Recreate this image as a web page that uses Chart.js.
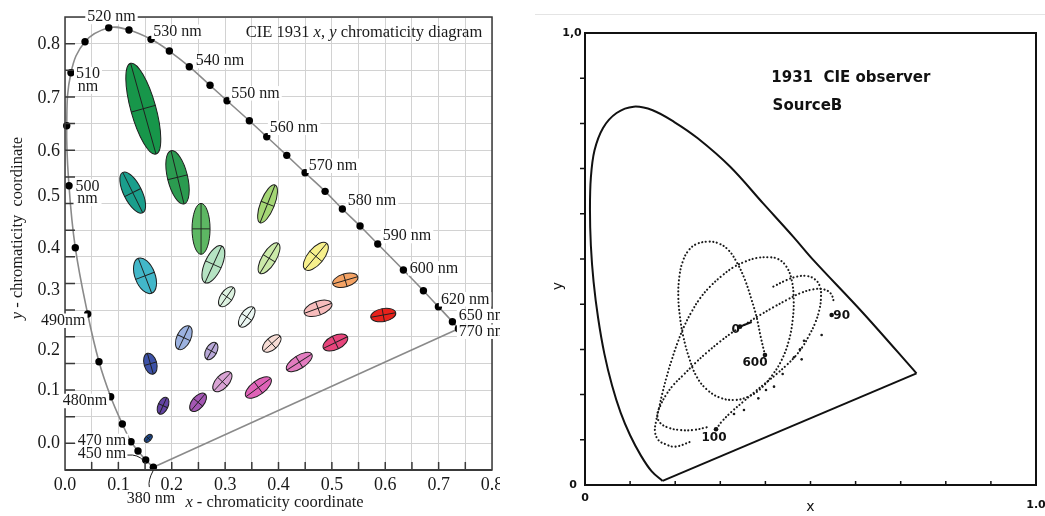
<!DOCTYPE html>
<html>
<head>
<meta charset="utf-8">
<script src="https://cdn.jsdelivr.net/npm/chart.js@4.4.0/dist/chart.umd.min.js"></script>
<style>
  html, body { margin: 0; padding: 0; background: #fff; }
  #cie { position: absolute; left: 0; top: 0; }
  #scan { position: absolute; left: 530px; top: 0; }
</style>
</head>
<body>
<canvas id="cie" width="500" height="516"></canvas>
<canvas id="scan" width="515" height="516"></canvas>
<script>
// ---- left panel: CIE 1931 locus + MacAdam ellipses ----
const locusNm = [380, 450, 460, 470, 475, 480, 485, 490, 495, 500, 505, 510, 515, 520, 525, 530, 535, 540, 545, 550, 555, 560, 565, 570, 575, 580, 585, 590, 600, 610, 620, 650, 770];
const locusX = [0.1655, 0.1512, 0.1368, 0.1237, 0.1074, 0.0856, 0.0637, 0.0425, 0.0193, 0.0075, 0.0032, 0.0112, 0.0375, 0.0819, 0.1199, 0.1612, 0.1955, 0.2329, 0.2717, 0.3036, 0.3454, 0.378, 0.4155, 0.4498, 0.4873, 0.5197, 0.5528, 0.586, 0.634, 0.6715, 0.6996, 0.7258, 0.7371];
const locusY = [0.0051, 0.0188, 0.0356, 0.0531, 0.0863, 0.1375, 0.2032, 0.2927, 0.4171, 0.5334, 0.646, 0.7454, 0.8036, 0.8298, 0.8255, 0.8081, 0.7861, 0.7567, 0.7218, 0.6929, 0.6553, 0.6253, 0.5904, 0.5578, 0.5229, 0.4897, 0.4578, 0.424, 0.3752, 0.3364, 0.3064, 0.2782, 0.2651];

// label text + where it sits (data coords)
const nmLabelText = ['520 nm', '530 nm', '540 nm', '550 nm', '560 nm', '570 nm', '580 nm', '590 nm', '600 nm', '620 nm', '650 nm', '770 nm', '510\nnm', '500\nnm', '490nm', '480nm', '470 nm', '450 nm', '380 nm'];
const nmLabelX = [0.0871, 0.2108, 0.2905, 0.357, 0.4292, 0.5022, 0.5753, 0.6409, 0.6915, 0.7496, 0.7833, 0.7833, 0.0431, 0.0422, -0.0032, 0.0375, 0.0693, 0.0693, 0.1612];
const nmLabelY = [0.85, 0.8223, 0.7674, 0.7068, 0.6422, 0.5709, 0.5047, 0.439, 0.3784, 0.3203, 0.2889, 0.2595, 0.7311, 0.5204, 0.2801, 0.1295, 0.0544, 0.0313, -0.0531];

// ellipse centre, semi-axes (data units), tilt of major axis from vertical (deg)
const ellX = [0.1467, 0.2108, 0.1269, 0.2549, 0.3795, 0.2779, 0.3823, 0.4700, 0.3030, 0.5251, 0.4741, 0.5963, 0.5066, 0.4389, 0.3874, 0.2226, 0.1599, 0.2742, 0.3405, 0.1837, 0.2493, 0.2948, 0.3623, 0.1561, 0.1499];
const ellY = [0.6779, 0.5492, 0.5206, 0.4525, 0.4994, 0.3859, 0.3972, 0.4009, 0.3251, 0.3559, 0.3034, 0.2908, 0.2392, 0.2026, 0.2373, 0.2482, 0.1994, 0.2233, 0.2871, 0.1206, 0.1270, 0.1657, 0.1548, 0.0595, 0.3644];
const ellA = [0.0884, 0.0514, 0.0422, 0.0478, 0.0381, 0.0379, 0.0330, 0.0319, 0.0216, 0.0244, 0.0274, 0.0238, 0.0250, 0.0278, 0.0210, 0.0242, 0.0203, 0.0178, 0.0221, 0.0171, 0.0205, 0.0231, 0.0289, 0.0088, 0.0351];
const ellB = [0.0235, 0.0188, 0.0170, 0.0169, 0.0131, 0.0160, 0.0131, 0.0150, 0.0113, 0.0122, 0.0131, 0.0122, 0.0131, 0.0122, 0.0113, 0.0131, 0.0119, 0.0103, 0.0113, 0.0094, 0.0113, 0.0122, 0.0131, 0.0053, 0.0188];
const ellTilt = [-15.6, -13.7, -26.4, 0, 21.7, 24.5, 31.4, 39.8, 35, 73.7, 70, 79.6, 64.2, 57.4, 48, 25.3, -16, 29, 34.5, 24, 40, 42.8, 53.3, 45, -21];
const ellColor = ['#17964a', '#2b9b50', '#1a9e8c', '#5db763', '#a4d675', '#b5e3c3', '#cbeaa9', '#f7f08c', '#dcf2e0', '#f4a365', '#f7bcbc', '#e8221b', '#e8457c', '#e37cc0', '#f7dcd5', '#9cb2e0', '#3d52a8', '#b9a9d9', '#eaf6f2', '#6343a3', '#a457b3', '#d9a3d4', '#e063b8', '#1c4b92', '#42b7c9'];

const xTickAt = [0, 0.1, 0.2, 0.3, 0.4, 0.5, 0.6, 0.7, 0.8];
const xTickLabels = ['0.0', '0.1', '0.2', '0.3', '0.4', '0.5', '0.6', '0.7', '0.8'];
// the y labels in the source sit off their gridlines, keep them where they are drawn
const yTickAt = [0.05, 0.15, 0.225, 0.338, 0.416, 0.513, 0.598, 0.697, 0.799];
const yTickLabels = ['0.0', '0.1', '0.2', '0.3', '0.4', '0.5', '0.6', '0.7', '0.8'];

// ---- right panel: scanned plot ----
const rLocusX = [0.172, 0.148, 0.124, 0.100, 0.079, 0.060, 0.043, 0.029, 0.019, 0.013, 0.011, 0.013, 0.021, 0.040, 0.070, 0.108, 0.150, 0.198, 0.250, 0.322, 0.395, 0.462, 0.506, 0.617, 0.735];
const rLocusY = [0.009, 0.030, 0.065, 0.110, 0.160, 0.220, 0.290, 0.370, 0.450, 0.530, 0.610, 0.680, 0.740, 0.790, 0.823, 0.837, 0.829, 0.803, 0.767, 0.704, 0.623, 0.549, 0.498, 0.380, 0.247];

const loop1X = [0.399, 0.3895, 0.3806, 0.3696, 0.3548, 0.3378, 0.3178, 0.2956, 0.2734, 0.2476, 0.2291, 0.2166, 0.2092, 0.2069, 0.2106, 0.218, 0.2313, 0.2476, 0.2698, 0.2993, 0.3326, 0.3622, 0.388, 0.4139, 0.4361, 0.4524, 0.4604, 0.4627, 0.4583, 0.4457, 0.4265, 0.4065, 0.3806, 0.3548, 0.3289, 0.303, 0.2772, 0.255, 0.2365, 0.2195, 0.2047, 0.1922, 0.1811, 0.1715, 0.164, 0.1574, 0.1552, 0.1626, 0.1774, 0.1997, 0.2365];
const loop1Y = [0.2877, 0.3282, 0.371, 0.4093, 0.4535, 0.4904, 0.52, 0.5347, 0.5384, 0.5332, 0.5184, 0.4941, 0.4609, 0.4167, 0.3724, 0.3282, 0.2802, 0.2397, 0.2117, 0.1932, 0.1881, 0.1955, 0.2117, 0.2412, 0.2766, 0.3208, 0.365, 0.4093, 0.4535, 0.4845, 0.5007, 0.5037, 0.5022, 0.4941, 0.4816, 0.4624, 0.4388, 0.413, 0.3835, 0.3503, 0.3134, 0.2766, 0.2397, 0.2028, 0.1696, 0.1401, 0.118, 0.0996, 0.0907, 0.0848, 0.0966];
const loop2X = [0.4176, 0.4472, 0.4693, 0.4915, 0.5099, 0.521, 0.5233, 0.5196, 0.51, 0.4974, 0.4826, 0.4656, 0.4472, 0.4249, 0.4013, 0.3769, 0.351, 0.3252, 0.303, 0.2905];
const loop2Y = [0.439, 0.4535, 0.4609, 0.4624, 0.455, 0.4388, 0.4167, 0.3872, 0.3577, 0.3319, 0.3061, 0.284, 0.2655, 0.2456, 0.2264, 0.2065, 0.1844, 0.1622, 0.14, 0.1232];
const loop3X = [0.2698, 0.2402, 0.2106, 0.1848, 0.1663, 0.1604, 0.1678, 0.1796, 0.1959, 0.2181, 0.2439, 0.2698, 0.2993, 0.3289, 0.3585, 0.388, 0.4176, 0.4472, 0.4767, 0.5063, 0.5285, 0.5447, 0.5521];
const loop3Y = [0.1276, 0.1217, 0.1217, 0.1268, 0.1379, 0.1549, 0.177, 0.1991, 0.2212, 0.2434, 0.2692, 0.2928, 0.3171, 0.3393, 0.3577, 0.3761, 0.3931, 0.4093, 0.424, 0.4329, 0.4329, 0.424, 0.4056];
const strayX = [0.5247, 0.4856, 0.4767, 0.4804, 0.4634, 0.4383, 0.4191, 0.4013, 0.3843, 0.3525, 0.3304];
const strayY = [0.3319, 0.3193, 0.3002, 0.278, 0.2825, 0.2456, 0.2176, 0.2102, 0.1917, 0.1659, 0.1571];
const markText = ['0', '600', '90', '100'];
const markX = [0.3437, 0.399, 0.5469, 0.2905];
const markY = [0.3503, 0.2877, 0.376, 0.1232];
const markLabelX = [0.334, 0.3769, 0.5691, 0.286];
const markLabelY = [0.3429, 0.2692, 0.3746, 0.1033];

const pts = (xs, ys) => xs.map((v, i) => ({ x: v, y: ys[i] }));
const serif = '"Liberation Serif", "Times New Roman", serif';
const sans = '"DejaVu Sans", sans-serif';

function mixed(ctx, parts, size, x, y) {
  // parts: [text, italic], centred on x
  let w = 0;
  parts.forEach(p => { ctx.font = (p[1] ? 'italic ' : '') + size + 'px ' + serif; w += ctx.measureText(p[0]).width; });
  let cx = x - w / 2;
  ctx.textAlign = 'left';
  parts.forEach(p => {
    ctx.font = (p[1] ? 'italic ' : '') + size + 'px ' + serif;
    ctx.fillText(p[0], cx, y);
    cx += ctx.measureText(p[0]).width;
  });
}

const cieDecor = {
  id: 'cieDecor',
  beforeDatasetsDraw(chart) {
    const { ctx, scales: { x, y } } = chart;
    const unit = y.getPixelForValue(0) - y.getPixelForValue(1);
    for (let i = 0; i < ellX.length; i++) {
      const ra = ellA[i] * unit, rb = ellB[i] * unit;
      ctx.save();
      ctx.translate(x.getPixelForValue(ellX[i]), y.getPixelForValue(ellY[i]));
      ctx.rotate(ellTilt[i] * Math.PI / 180);
      ctx.beginPath();
      ctx.ellipse(0, 0, rb, ra, 0, 0, Math.PI * 2);
      ctx.fillStyle = ellColor[i];
      ctx.fill();
      ctx.strokeStyle = '#1f1f1f';
      ctx.lineWidth = 1;
      ctx.stroke();
      ctx.beginPath();
      ctx.moveTo(0, -ra); ctx.lineTo(0, ra);
      ctx.moveTo(-rb, 0); ctx.lineTo(rb, 0);
      ctx.lineWidth = 0.9;
      ctx.stroke();
      ctx.restore();
    }
  },
  afterDatasetsDraw(chart) {
    const { ctx, chartArea: a, scales: { x, y } } = chart;
    ctx.save();
    // frame + inward ticks
    ctx.strokeStyle = '#3a3a3a';
    ctx.lineWidth = 1.5;
    ctx.strokeRect(a.left, a.top, a.right - a.left, a.bottom - a.top);
    ctx.beginPath();
    for (let v = 0.05; v < 0.8; v += 0.05) {
      const px = x.getPixelForValue(v);
      ctx.moveTo(px, a.bottom); ctx.lineTo(px, a.bottom - 8);
    }
    for (let v = 0.05; v < 0.85; v += 0.05) {
      const py = y.getPixelForValue(v);
      ctx.moveTo(a.left, py); ctx.lineTo(a.left + 10, py);
    }
    ctx.stroke();
    ctx.lineWidth = 2;
    ctx.beginPath(); ctx.moveTo(a.left, a.bottom); ctx.lineTo(a.right, a.bottom); ctx.stroke();

    ctx.fillStyle = '#1a1a1a';
    ctx.textBaseline = 'middle';
    ctx.font = '18px ' + serif;
    ctx.textAlign = 'center';
    xTickAt.forEach((v, i) => ctx.fillText(xTickLabels[i], x.getPixelForValue(v), a.bottom + 15));
    ctx.textAlign = 'right';
    yTickAt.forEach((v, i) => ctx.fillText(yTickLabels[i], a.left - 5, y.getPixelForValue(v)));

    // wavelength labels
    ctx.font = '16px ' + serif;
    ctx.textAlign = 'center';
    nmLabelText.forEach((t, i) => {
      const lines = t.split('\n');
      const cx = x.getPixelForValue(nmLabelX[i]), cy = y.getPixelForValue(nmLabelY[i]);
      const w = Math.max(...lines.map(l => ctx.measureText(l).width));
      const h = lines.length * 12.5;
      ctx.fillStyle = '#fff';
      ctx.fillRect(cx - w / 2 - 2, cy - h / 2 - 1, w + 4, h + 2);
      ctx.fillStyle = '#1a1a1a';
      lines.forEach((l, k) => ctx.fillText(l, cx, cy + (k - (lines.length - 1) / 2) * 12.5));
    });
    // leader lines for 450 nm and 380 nm
    ctx.strokeStyle = '#1a1a1a';
    ctx.lineWidth = 1;
    ctx.beginPath();
    ctx.moveTo(x.getPixelForValue(0.117), y.getPixelForValue(0.028));
    ctx.quadraticCurveTo(x.getPixelForValue(0.137), y.getPixelForValue(0.03), x.getPixelForValue(locusX[1]) - 2, y.getPixelForValue(locusY[1]) + 1);
    ctx.moveTo(x.getPixelForValue(locusX[0]), y.getPixelForValue(locusY[0]) + 3);
    ctx.quadraticCurveTo(x.getPixelForValue(0.155), y.getPixelForValue(-0.02), x.getPixelForValue(0.158), y.getPixelForValue(-0.032));
    ctx.stroke();

    // title and axis titles
    ctx.fillStyle = '#1a1a1a';
    ctx.textBaseline = 'middle';
    mixed(ctx, [['CIE 1931 ', 0], ['x', 1], [', ', 0], ['y', 1], [' chromaticity diagram', 0]], 16.5, 364, 33);
    mixed(ctx, [['x', 1], [' - chromaticity coordinate', 0]], 16.5, (a.left + a.right) / 2 - 4, a.bottom + 33);
    ctx.translate(a.left - 47, a.top + 211);
    ctx.rotate(-Math.PI / 2);
    mixed(ctx, [['y', 1], [' - chromaticity  coordinate', 0]], 16.5, 0, 0);
    ctx.restore();
  }
};

new Chart(document.getElementById('cie'), {
  type: 'scatter',
  data: {
    datasets: [
      {
        data: pts(locusX, locusY),
        showLine: true,
        tension: 0.4,
        borderColor: '#8a8a8a',
        borderWidth: 1.6,
        pointRadius: 3.7,
        pointBorderWidth: 0,
        pointBackgroundColor: '#000',
        clip: 6,
      },
      {
        data: [{ x: locusX[0], y: locusY[0] }, { x: locusX[locusX.length - 1], y: locusY[locusY.length - 1] }],
        showLine: true,
        tension: 0,
        borderColor: '#8a8a8a',
        borderWidth: 1.6,
        pointRadius: 0,
      },
    ],
  },
  options: {
    responsive: false,
    animation: false,
    devicePixelRatio: 1,
    events: [],
    layout: { padding: { top: 17, right: 8, left: 0, bottom: 0 } },
    plugins: { legend: { display: false }, tooltip: { enabled: false } },
    scales: {
      x: {
        type: 'linear', min: 0, max: 0.8,
        ticks: { stepSize: 0.05, display: false },
        grid: { color: '#d2d2d2', drawTicks: false },
        border: { display: false },
        afterFit: s => { s.height = 46; },
      },
      y: {
        type: 'linear', min: 0, max: 0.85,
        ticks: { stepSize: 0.05, display: false },
        grid: { color: '#d2d2d2', drawTicks: false },
        border: { display: false },
        afterFit: s => { s.width = 65; },
      },
    },
  },
  plugins: [cieDecor],
});

// ---- right panel ----
const scanDecor = {
  id: 'scanDecor',
  afterDatasetsDraw(chart) {
    const { ctx, chartArea: a, scales: { x, y } } = chart;
    ctx.save();
    ctx.strokeStyle = '#e4e4e4';
    ctx.lineWidth = 1;
    ctx.beginPath(); ctx.moveTo(5, 14.5); ctx.lineTo(515, 14.5); ctx.stroke();

    ctx.strokeStyle = '#111';
    ctx.lineWidth = 2;
    ctx.strokeRect(a.left, a.top, a.right - a.left, a.bottom - a.top);
    ctx.beginPath();
    for (let v = 0.1; v < 0.95; v += 0.1) {
      const py = y.getPixelForValue(v), px = x.getPixelForValue(v);
      ctx.moveTo(a.left, py); ctx.lineTo(a.left - 5, py);
      ctx.moveTo(px, a.bottom); ctx.lineTo(px, a.bottom - 4);
    }
    ctx.lineWidth = 1.5;
    ctx.stroke();

    // "0" lead line
    ctx.lineWidth = 2;
    ctx.beginPath();
    ctx.moveTo(x.getPixelForValue(0.3437), y.getPixelForValue(0.3503));
    ctx.lineTo(x.getPixelForValue(0.3696), y.getPixelForValue(0.3606));
    ctx.stroke();

    ctx.fillStyle = '#111';
    ctx.textBaseline = 'middle';
    ctx.textAlign = 'center';
    ctx.font = 'bold 11px ' + sans;
    ctx.fillText('1,0', a.left - 13, a.top);
    ctx.fillText('0', a.left - 12, a.bottom);
    ctx.fillText('0', a.left, a.bottom + 13);
    ctx.fillText('1.0', a.right, a.bottom + 20);
    ctx.font = '14px ' + sans;
    ctx.fillText('x', x.getPixelForValue(0.5), a.bottom + 22);
    ctx.save();
    ctx.translate(a.left - 27, y.getPixelForValue(0.44));
    ctx.rotate(-Math.PI / 2);
    ctx.fillText('y', 0, 0);
    ctx.restore();

    ctx.textAlign = 'left';
    ctx.font = 'bold 15px ' + sans;
    ctx.fillText('1931  CIE observer', x.getPixelForValue(0.413), y.getPixelForValue(0.9));
    ctx.fillText('SourceB', x.getPixelForValue(0.416), y.getPixelForValue(0.838));

    ctx.textAlign = 'center';
    ctx.font = 'bold 12px ' + sans;
    markText.forEach((t, i) => ctx.fillText(t, x.getPixelForValue(markLabelX[i]), y.getPixelForValue(markLabelY[i])));
    ctx.restore();
  }
};

const dotted = (xs, ys) => ({
  data: pts(xs, ys),
  showLine: true,
  tension: 0.4,
  borderColor: '#1a1a1a',
  borderWidth: 2.1,
  borderDash: [0.1, 3.6],
  borderCapStyle: 'round',
  pointRadius: 0,
});

new Chart(document.getElementById('scan'), {
  type: 'scatter',
  data: {
    datasets: [
      {
        data: pts(rLocusX, rLocusY),
        showLine: true,
        tension: 0.35,
        borderColor: '#111',
        borderWidth: 2,
        pointRadius: 0,
      },
      {
        data: [{ x: rLocusX[rLocusX.length - 1], y: rLocusY[rLocusY.length - 1] }, { x: rLocusX[0], y: rLocusY[0] }],
        showLine: true,
        tension: 0,
        borderColor: '#111',
        borderWidth: 2,
        pointRadius: 0,
      },
      dotted(loop1X, loop1Y),
      dotted(loop2X, loop2Y),
      dotted(loop3X, loop3Y),
      { data: pts(strayX, strayY), pointRadius: 1.3, pointBorderWidth: 0, pointBackgroundColor: '#1a1a1a' },
      { data: pts(markX, markY), pointRadius: 2.3, pointBorderWidth: 0, pointBackgroundColor: '#111' },
    ],
  },
  options: {
    responsive: false,
    animation: false,
    devicePixelRatio: 1,
    events: [],
    layout: { padding: { top: 33, right: 9, left: 0, bottom: 0 } },
    plugins: { legend: { display: false }, tooltip: { enabled: false } },
    scales: {
      x: {
        type: 'linear', min: 0, max: 1,
        ticks: { display: false },
        grid: { display: false },
        border: { display: false },
        afterFit: s => { s.height = 31; },
      },
      y: {
        type: 'linear', min: 0, max: 1,
        ticks: { display: false },
        grid: { display: false },
        border: { display: false },
        afterFit: s => { s.width = 55; },
      },
    },
  },
  plugins: [scanDecor],
});
</script>
</body>
</html>
